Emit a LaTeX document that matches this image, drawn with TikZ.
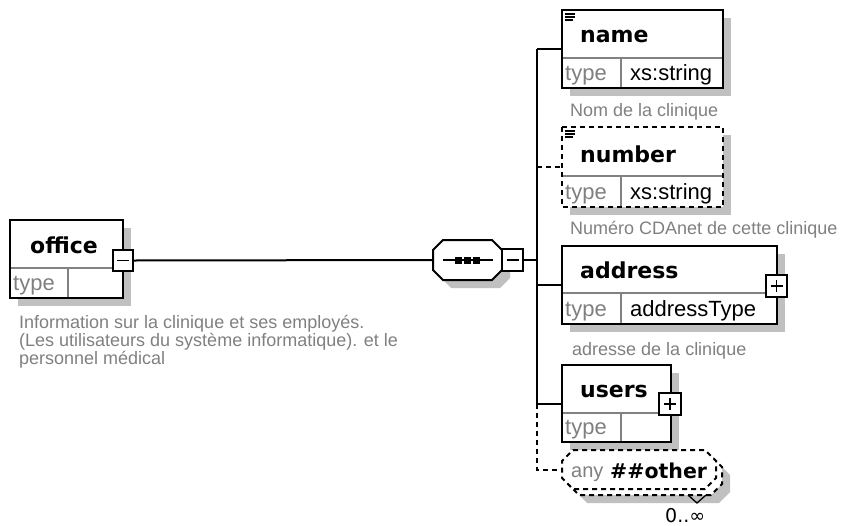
\documentclass[tikz,border=0pt]{standalone}
\usepackage{fontspec}
\setmainfont{Liberation Sans}
\newfontfamily\lblfont{DejaVu Sans}
\usetikzlibrary{calc}

\definecolor{shade}{RGB}{192,192,192}
\definecolor{txtgray}{RGB}{128,128,128}
\definecolor{divgray}{RGB}{130,130,130}

% octagon drawn round a (text-less) node: #1 node name, #2 chamfer size
\newcommand\octpath[2]{($(#1.north west)+(#2,0)$) -- ($(#1.north east)+(-#2,0)$) -- ($(#1.north east)+(0,#2)$) -- ($(#1.south east)+(0,-#2)$) -- ($(#1.south east)+(-#2,0)$) -- ($(#1.south west)+(#2,0)$) -- ($(#1.south west)+(0,-#2)$) -- ($(#1.north west)+(0,#2)$) -- cycle}

\tikzset{
  elframe/.style={draw=black, line width=2pt, fill=white},
  dashedline/.style={dash pattern=on 5pt off 4pt},
  boxframe/.style={inner sep=0pt, outer sep=0pt},
  lbl/.style={anchor=base west, inner sep=0pt, font=\lblfont\bfseries\fontsize{22}{22}\selectfont},
  celltxt/.style={anchor=base west, inner sep=0pt, font=\fontsize{22}{22}\selectfont},
  typetxt/.style={celltxt, text=txtgray},
  doc/.style={anchor=base west, inner sep=0pt, text=txtgray, font=\fontsize{18}{18}\selectfont},
  divider/.style={draw=divgray, line width=1.3pt},
  conn/.style={line width=2pt},
  dropshade/.style={fill=shade, transform canvas={xshift=8pt, yshift=-8pt}},
  toggle/.style={draw, line width=1.8pt, fill=white, minimum width=20pt, minimum height=21pt, inner sep=0pt},
  sign/.style={line width=1.8pt},
  icon/.style={line width=1.3pt},
}

\begin{document}
\begin{tikzpicture}[x=1pt, y=-1pt]
\useasboundingbox (0,0) rectangle (850,525);

% ---------- frames (invisible nodes giving the geometry) ----------
\node[boxframe, minimum width=113pt, minimum height=78pt] (office) at (66.5,259) {};
\node[boxframe, minimum width=69pt, minimum height=40pt] (seq) at (467.5,260) {};
\node[boxframe, minimum width=161pt, minimum height=78pt] (name) at (642.5,49) {};
\node[boxframe, minimum width=161pt, minimum height=80pt] (number) at (642.5,167) {};
\node[boxframe, minimum width=215pt, minimum height=78pt] (address) at (669.5,285) {};
\node[boxframe, minimum width=109pt, minimum height=77pt] (users) at (616.5,403.5) {};
\node[boxframe, minimum width=154pt, minimum height=39pt] (anyback) at (645,475.5) {};
\node[boxframe, minimum width=154pt, minimum height=39pt] (any) at (639,469.5) {};
\coordinate (bus) at (537,260);

% ---------- shadows ----------
\foreach \n in {office,name,number,address,users}
  \fill[dropshade] (\n.north west) rectangle (\n.south east);
\fill[dropshade] \octpath{seq}{10};
\fill[dropshade] \octpath{anyback}{11};

% ---------- connectors ----------
\draw[conn] (office.east) ++(10,1.5) -- (seq.west);
\draw[conn] (seq.east) -- (bus);
\draw[conn] (bus |- name.west) -- (bus |- users.west);
\draw[conn] (bus |- name.west) -- (name.west);
\draw[conn, dashedline] (bus |- number.west) -- (number.west);
\draw[conn] (bus |- address.west) -- (address.west);
\draw[conn] (bus |- users.west) -- (users.west);
\draw[conn, dashedline] (bus |- users.west) -- (bus |- any.west) -- (any.west);

% ---------- element boxes ----------
\draw[elframe] (office.north west) rectangle (office.south east);
\draw[elframe] (name.north west) rectangle (name.south east);
\draw[elframe, dashedline] (number.north west) rectangle (number.south east);
\draw[elframe] (address.north west) rectangle (address.south east);
\draw[elframe] (users.north west) rectangle (users.south east);

% header / type separators
\draw[divider] ($(office.north west)+(1,48)$) -- ($(office.north east)+(-1,48)$);
\draw[divider] ($(office.south west)+(58,-1)$) -- ($(office.north west)+(58,48)$);
\draw[divider] ($(name.north west)+(1,48)$) -- ($(name.north east)+(-1,48)$);
\draw[divider] ($(name.south west)+(59,-1)$) -- ($(name.north west)+(59,48)$);
\draw[divider] ($(number.north west)+(1,49)$) -- ($(number.north east)+(-1,49)$);
\draw[divider] ($(number.south west)+(59,-1)$) -- ($(number.north west)+(59,49)$);
\draw[divider] ($(address.north west)+(1,47)$) -- ($(address.north east)+(-1,47)$);
\draw[divider] ($(address.south west)+(59,-1)$) -- ($(address.north west)+(59,47)$);
\draw[divider] ($(users.north west)+(1,48)$) -- ($(users.north east)+(-1,48)$);
\draw[divider] ($(users.south west)+(59,-1)$) -- ($(users.north west)+(59,48)$);

% simple-content icons
\foreach \n in {name,number}
  \foreach \dy/\w in {4/10,7/10,10/8}
    \draw[icon] ($(\n.north west)+(3,\dy)$) -- ++(\w,0);

% sequence compositor
\draw[elframe] \octpath{seq}{10};
\draw[line width=2pt] ($(seq.west)+(10,0)$) -- ($(seq.east)+(-9,0)$);
\foreach \d in {-9,0,9}
  \fill ($(seq.center)+(\d-3.5,-3.5)$) rectangle ++(7,7);

% wildcard (any, repeated)
\draw[elframe, dashedline] \octpath{anyback}{11};
\draw[elframe, dashedline] \octpath{any}{11};
\draw[icon] ($(anyback.south)+(43,0)$) -- ++(9,8) -- ++(9,-8);

% collapse / expand toggles
\node[toggle] (officetog) at (123,260.5) {};
\draw[sign] ($(officetog.center)+(-6,0)$) -- ++(12,0);
\node[toggle, minimum width=21pt, minimum height=22pt] (seqtog) at (512.5,260) {};
\draw[sign] ($(seqtog.center)+(-6,0)$) -- ++(12,0);
\node[toggle, minimum width=21pt, minimum height=22pt] (addrtog) at (776.5,286) {};
\draw[sign] ($(addrtog.center)+(-6,0)$) -- ++(12,0);
\draw[sign] ($(addrtog.center)+(0,-6)$) -- ++(0,12);
\node[toggle, minimum width=22pt, minimum height=22pt] (userstog) at (670,404) {};
\draw[sign] ($(userstog.center)+(-6,0)$) -- ++(12,0);
\draw[sign] ($(userstog.center)+(0,-6)$) -- ++(0,12);

% ---------- texts ----------
\node[lbl] (officelbl) at (30,253) {office};
\node[typetxt] (officetype) at (13,290) {type};

\node[lbl] (namelbl) at (580,42) {name};
\node[typetxt] (nametype) at (565,80) {type};
\node[celltxt] (nameval) at (630,80) {xs:string};

\node[lbl] (numberlbl) at (580,162) {number};
\node[typetxt] (numbertype) at (565,199) {type};
\node[celltxt] (numberval) at (630,199) {xs:string};

\node[lbl] (addresslbl) at (580,278) {address};
\node[typetxt] (addresstype) at (565,316) {type};
\node[celltxt] (addressval) at (630,316) {addressType};

\node[lbl] (userslbl) at (580,397) {users};
\node[typetxt] (userstype) at (565,434) {type};

\node[typetxt, font=\fontsize{20}{20}\selectfont] (anytxt) at (571,477) {any};
\node[lbl, font=\lblfont\bfseries\fontsize{20.5}{20.5}\selectfont] (anyns) at (610,478) {\#\#other};
\node[anchor=base west, inner sep=0pt, font=\lblfont\fontsize{19}{19}\selectfont] (anyocc) at (665,522) {0..∞};

% documentation
\node[doc] (officedoc1) at (19,328) {Information sur la clinique et ses employés.};
\node[doc] (officedoc2) at (19,346) {(Les utilisateurs du système informatique). et le};
\node[doc] (officedoc3) at (19,364) {personnel médical};
\node[doc] (namedoc) at (570,116) {Nom de la clinique};
\node[doc] (numberdoc) at (570,234) {Numéro CDAnet de cette clinique};
\node[doc] (addressdoc) at (572,355) {adresse de la clinique};
\end{tikzpicture}
\end{document}
